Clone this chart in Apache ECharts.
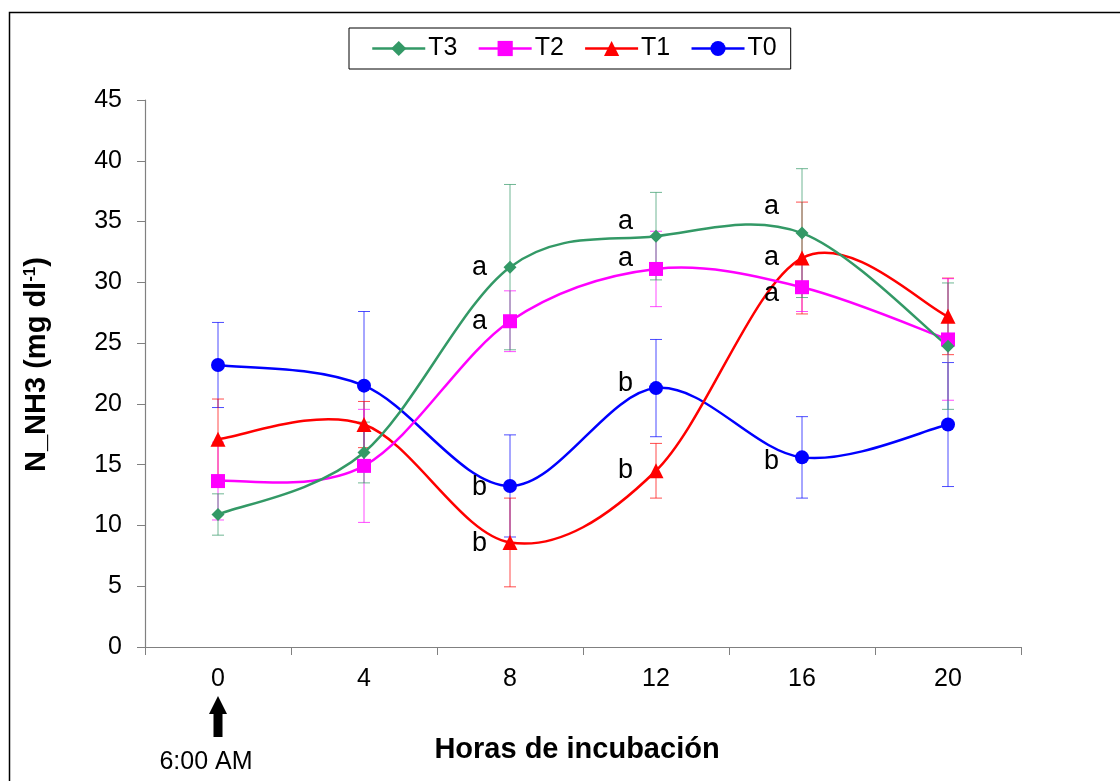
<!DOCTYPE html>
<html>
<head>
<meta charset="utf-8">
<title>N_NH3 por horas de incubación</title>
<script src="https://cdn.jsdelivr.net/npm/echarts@6/dist/echarts.min.js"></script>
<style>
  html, body { margin: 0; padding: 0; background: #ffffff; }
  #chart { width: 1120px; height: 781px; }
</style>
</head>
<body>
<div id="chart"></div>
<script>
// Horas de incubación (eje X)
const hours = ['0', '4', '8', '12', '16', '20'];

// N_NH3 (mg dl-1): medias por tratamiento
const T3 = [10.9, 16.0, 31.25, 33.8, 34.05, 24.75];
const T2 = [13.65, 14.9, 26.8, 31.1, 29.6, 25.3];
const T1 = [17.1, 18.3, 8.6, 14.5, 32.0, 27.2];
const T0 = [23.2, 21.5, 13.25, 21.3, 15.6, 18.3];

// Desviación (barras de error)
const T3err = [1.7, 2.5, 6.8, 3.6, 5.3, 5.2];
const T2err = [3.2, 4.65, 2.5, 3.1, 2.0, 5.0];
const T1err = [3.3, 1.9, 3.65, 2.25, 4.6, 3.15];
const T0err = [3.5, 6.1, 4.2, 4.0, 3.35, 5.1];

// Letras de significancia
const T3sig = ['', '', 'a', 'a', 'a', ''];
const T2sig = ['', '', 'a', 'a', 'a', ''];
const T1sig = ['', '', 'b', 'b', 'a', ''];
const T0sig = ['', '', 'b', 'b', 'b', ''];

// Ticks del eje Y
const yMin = 0, yMax = 45, yStep = 5;

const FONT = '"Liberation Sans", Arial, sans-serif';

// vertical shifts (px) for the letters so they do not collide
const letterShift = {
  T3: [0, 0, 0, -15, -27, 0],
  T2: [0, 0, 0, -10, 6, 0],
  T1: [0, 0, 1, 0, 0, 0],
  T0: [0, 0, 2, -5, 4, 0]
};

const treatments = [
  { name: 'T0', values: T0, err: T0err, sig: T0sig, color: '#0000FF', symbol: 'circle', size: 14 },
  { name: 'T1', values: T1, err: T1err, sig: T1sig, color: '#FF0000', symbol: 'triangle', size: 15 },
  { name: 'T2', values: T2, err: T2err, sig: T2sig, color: '#FF00FF', symbol: 'rect', size: 14 },
  { name: 'T3', values: T3, err: T3err, sig: T3sig, color: '#339966', symbol: 'diamond', size: 13 }
];

// Markers, letters and legend entry (the connecting line is drawn by curveSeries)
function markerSeries(t) {
  const data = t.values.map((v, i) => {
    const item = { value: v };
    if (t.sig[i]) {
      item.label = {
        show: true,
        formatter: t.sig[i],
        position: 'left',
        distance: 23 - t.size / 2,
        offset: [0, letterShift[t.name][i]],
        color: '#000',
        fontSize: 27,
        fontFamily: FONT
      };
    }
    return item;
  });
  return {
    name: t.name,
    type: 'line',
    data: data,
    symbol: t.symbol,
    symbolSize: t.size,
    showAllSymbol: true,
    z: 4,
    lineStyle: { color: t.color, width: 2.5, opacity: 0 },
    itemStyle: { color: t.color },
    emphasis: { disabled: true },
    animation: false
  };
}

// Smoothed connecting line: cubic Bezier segments whose control points
// sit 1/6 of the neighbour-to-neighbour vector away from each point.
function curveSeries(t) {
  const n = t.values.length;
  return {
    type: 'custom',
    name: t.name + ' curva',
    z: 3,
    silent: true,
    animation: false,
    clip: false,
    data: t.values.slice(0, n - 1).map((v, i) => [i, v]),
    renderItem: function (params, api) {
      const i = api.value(0);
      const pt = k => {
        const kk = Math.max(0, Math.min(n - 1, k));
        return api.coord([kk, t.values[kk]]);
      };
      const p0 = pt(i - 1), p1 = pt(i), p2 = pt(i + 1), p3 = pt(i + 2);
      return {
        type: 'bezierCurve',
        shape: {
          x1: p1[0], y1: p1[1],
          cpx1: p1[0] + (p2[0] - p0[0]) / 6, cpy1: p1[1] + (p2[1] - p0[1]) / 6,
          cpx2: p2[0] - (p3[0] - p1[0]) / 6, cpy2: p2[1] - (p3[1] - p1[1]) / 6,
          x2: p2[0], y2: p2[1]
        },
        style: { stroke: t.color, lineWidth: 2.5, fill: 'none' }
      };
    }
  };
}

function errorSeries(t) {
  return {
    type: 'custom',
    name: t.name + ' DE',
    z: 2,
    silent: true,
    animation: false,
    data: t.values.map((v, i) => [i, v - t.err[i], v + t.err[i]]),
    renderItem: function (params, api) {
      const lo = api.coord([api.value(0), api.value(1)]);
      const hi = api.coord([api.value(0), api.value(2)]);
      const cap = 6;
      const style = { stroke: t.color, lineWidth: 1, opacity: 0.7 };
      return {
        type: 'group',
        children: [
          { type: 'line', shape: { x1: lo[0], y1: lo[1], x2: hi[0], y2: hi[1] }, style: style },
          { type: 'line', shape: { x1: lo[0] - cap, y1: lo[1], x2: lo[0] + cap, y2: lo[1] }, style: style },
          { type: 'line', shape: { x1: hi[0] - cap, y1: hi[1], x2: hi[0] + cap, y2: hi[1] }, style: style }
        ]
      };
    }
  };
}

const chart = echarts.init(document.getElementById('chart'), null, { renderer: 'canvas' });

const axisGray = '#808080';

const option = {
  backgroundColor: '#ffffff',
  animation: false,
  textStyle: { fontFamily: FONT },
  grid: { left: 145, right: 99, top: 100, bottom: 134, containLabel: false },
  legend: {
    data: ['T3', 'T2', 'T1', 'T0'],
    left: 349,
    top: 28,
    orient: 'horizontal',
    padding: [8, 14, 8, 22],
    itemGap: 20,
    itemWidth: 53,
    itemHeight: 19,
    borderColor: '#000000',
    borderWidth: 1,
    selectedMode: false,
    lineStyle: { opacity: 1, width: 2.5 },
    textStyle: { fontSize: 25, color: '#000', fontFamily: FONT, padding: [0, 0, 0, -2] }
  },
  xAxis: {
    type: 'category',
    data: hours,
    boundaryGap: true,
    name: 'Horas de incubación',
    nameLocation: 'middle',
    nameGap: 88,
    nameTextStyle: { fontSize: 29, fontWeight: 'bold', color: '#000', fontFamily: FONT, padding: [0, 12, 0, 0] },
    axisLine: { lineStyle: { color: axisGray, width: 1.2 } },
    axisTick: { show: true, length: 8, inside: false, lineStyle: { color: axisGray } },
    axisLabel: { fontSize: 25, color: '#000', margin: 20, fontFamily: FONT },
    splitLine: { show: false }
  },
  yAxis: {
    type: 'value',
    min: yMin,
    max: yMax,
    interval: yStep,
    name: '{m|N_NH3 (mg dl}{s|-1}{m|)}',
    nameLocation: 'middle',
    nameRotate: 90,
    nameGap: 93,
    nameTextStyle: {
      fontWeight: 'bold',
      color: '#000',
      fontFamily: FONT,
      padding: [0, 0, 0, 18],
      rich: {
        m: { fontSize: 29, fontWeight: 'bold', fontFamily: FONT, color: '#000' },
        s: { fontSize: 17, fontWeight: 'bold', fontFamily: FONT, color: '#000', verticalAlign: 'top', padding: [0, 0, 13, 0] }
      }
    },
    axisLine: { show: true, lineStyle: { color: axisGray, width: 1.2 } },
    axisTick: { show: true, length: 8, inside: false, lineStyle: { color: axisGray } },
    axisLabel: { fontSize: 25, color: '#000', margin: 23, fontFamily: FONT },
    splitLine: { show: false }
  },
  series: treatments.map(errorSeries)
    .concat(treatments.map(curveSeries))
    .concat(treatments.map(markerSeries))
};

chart.setOption(option);

// Arrow and time note under hour 0, plus the outer frame
const x0 = chart.convertToPixel({ xAxisIndex: 0 }, hours[0]);
chart.setOption({
  graphic: [
    {
      type: 'rect',
      shape: { x: 9.5, y: 12.5, width: 1300, height: 900 },
      style: { fill: 'none', stroke: '#000', lineWidth: 1.5 },
      silent: true
    },
    {
      type: 'polygon',
      shape: {
        points: [
          [x0, 696], [x0 + 9, 714], [x0 + 4.5, 714], [x0 + 4.5, 737],
          [x0 - 4.5, 737], [x0 - 4.5, 714], [x0 - 9, 714]
        ]
      },
      style: { fill: '#000' },
      silent: true
    },
    {
      type: 'text',
      x: x0 - 12,
      y: 762,
      style: {
        text: '6:00 AM',
        fontSize: 25,
        fontFamily: FONT,
        fill: '#000',
        align: 'center',
        verticalAlign: 'middle'
      },
      silent: true
    }
  ]
});
</script>
</body>
</html>
